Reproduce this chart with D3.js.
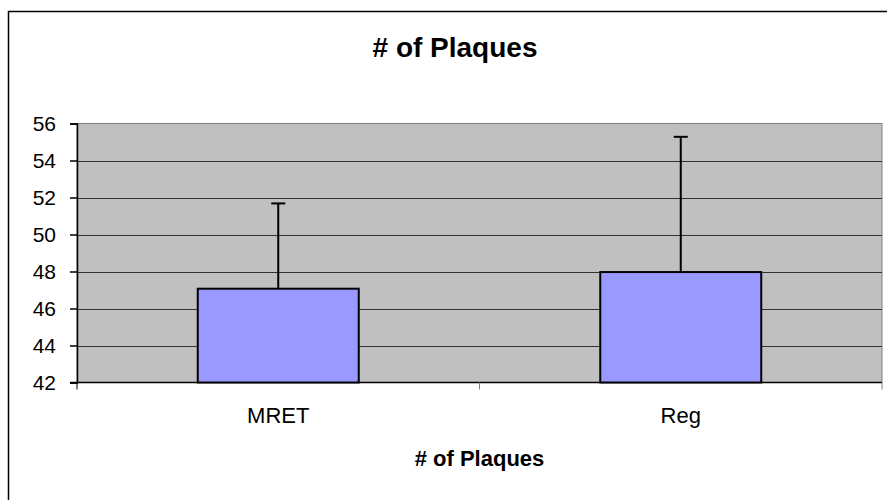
<!doctype html>
<html lang="en">
<head>
<meta charset="utf-8">
<script src="https://cdnjs.cloudflare.com/ajax/libs/d3/7.8.5/d3.min.js"></script>
<style>
  body { margin: 0; background: #fff; font-family: 'Liberation Sans', Arial, sans-serif; }
  svg { display: block; }
</style>
</head>
<body>
<script>
// chart data
const categories = ["MRET", "Reg"];
const means = [47.07, 47.97];
const errTops = [51.68, 55.28];
const yTicks = [42, 44, 46, 48, 50, 52, 54, 56];

const w = 887, h = 500;
const plot = { left: 77, right: 882, top: 123.5, bottom: 382.5 };

const svg = d3.select("body").append("svg")
  .attr("width", w)
  .attr("height", h);

// outer chart border (runs off the right/bottom edge like the original)
svg.append("rect")
  .attr("x", 8.5).attr("y", 11.5)
  .attr("width", 894).attr("height", 500)
  .attr("fill", "none").attr("stroke", "#000").attr("stroke-width", 1.5);

const x = d3.scaleBand()
  .domain(categories)
  .range([plot.left, plot.right])
  .paddingInner(0.6)
  .paddingOuter(0.3);

const y = d3.scaleLinear()
  .domain([42, 56])
  .range([plot.bottom, plot.top]);

// plot area
svg.append("rect")
  .attr("x", plot.left).attr("y", plot.top)
  .attr("width", plot.right - plot.left).attr("height", plot.bottom - plot.top)
  .attr("fill", "#c0c0c0")
  .attr("stroke", "#808080").attr("stroke-width", 1);

// gridlines
svg.append("g")
  .selectAll("line")
  .data(yTicks.slice(1, -1))
  .join("line")
  .attr("x1", plot.left).attr("x2", plot.right)
  .attr("y1", d => Math.round(y(d)) + 0.5).attr("y2", d => Math.round(y(d)) + 0.5)
  .attr("stroke", "#333").attr("stroke-width", 1);

// y axis
const yAxis = svg.append("g")
  .attr("transform", "translate(" + plot.left + ",0)")
  .call(d3.axisLeft(y).tickValues(yTicks).tickSize(7).tickPadding(14).tickFormat(d3.format("d")));
yAxis.selectAll("path, line").attr("stroke", "#000").attr("stroke-width", 1.5);
yAxis.selectAll("text")
  .attr("fill", "#000")
  .style("font-family", "'Liberation Sans', Arial, sans-serif")
  .style("font-size", "21px");

// x axis: line + boundary ticks
svg.append("line")
  .attr("x1", plot.left - 7).attr("x2", plot.right)
  .attr("y1", plot.bottom).attr("y2", plot.bottom)
  .attr("stroke", "#000").attr("stroke-width", 1.5);

const bounds = [plot.left].concat(categories.map(c => x(c) + x.bandwidth() + x.step() * 0.3));
svg.append("g")
  .selectAll("line")
  .data(bounds)
  .join("line")
  .attr("x1", d => d).attr("x2", d => d)
  .attr("y1", plot.bottom).attr("y2", plot.bottom + 7)
  .attr("stroke", (d, i) => i === 0 ? "#000" : "#808080").attr("stroke-width", 1);

// error bars
const err = svg.append("g");
categories.forEach((c, i) => {
  const cx = x(c) + x.bandwidth() / 2;
  err.append("line")
    .attr("x1", cx).attr("x2", cx)
    .attr("y1", y(means[i])).attr("y2", y(errTops[i]))
    .attr("stroke", "#000").attr("stroke-width", 2);
  err.append("line")
    .attr("x1", cx - 7).attr("x2", cx + 7)
    .attr("y1", y(errTops[i])).attr("y2", y(errTops[i]))
    .attr("stroke", "#000").attr("stroke-width", 2);
});

// bars
svg.append("g")
  .selectAll("rect")
  .data(categories)
  .join("rect")
  .attr("x", d => x(d))
  .attr("y", (d, i) => y(means[i]))
  .attr("width", x.bandwidth())
  .attr("height", (d, i) => y(42) - y(means[i]))
  .attr("fill", "#9999ff")
  .attr("stroke", "#000")
  .attr("stroke-width", 2);

// category labels
svg.append("g")
  .selectAll("text")
  .data(categories)
  .join("text")
  .attr("x", d => x(d) + x.bandwidth() / 2)
  .attr("y", 423)
  .attr("text-anchor", "middle")
  .style("font-size", "22px")
  .text(d => d);

// title
svg.append("text")
  .attr("x", 455).attr("y", 57)
  .attr("text-anchor", "middle")
  .style("font-size", "28px").style("font-weight", "bold")
  .text("# of Plaques");

// x axis title
svg.append("text")
  .attr("x", (plot.left + plot.right) / 2).attr("y", 466)
  .attr("text-anchor", "middle")
  .style("font-size", "22px").style("font-weight", "bold")
  .text("# of Plaques");
</script>
</body>
</html>
